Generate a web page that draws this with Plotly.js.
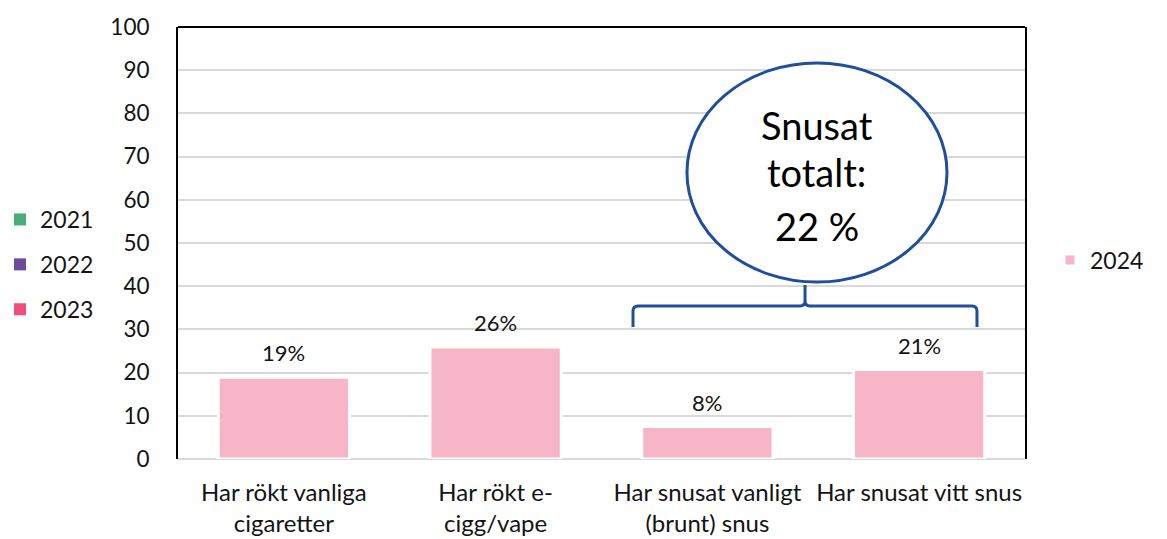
<!DOCTYPE html>
<html>
<head>
<meta charset="utf-8">
<script src="https://cdn.plot.ly/plotly-3.0.1.min.js"></script>
<style>html,body{margin:0;padding:0;background:#fff;}#chart{width:1167px;height:539px;}</style>
</head>
<body>
<div id="chart"></div>
<script>
var categories = ["Har rökt vanliga<br>cigaretter", "Har rökt e-<br>cigg/vape", "Har snusat vanligt<br>(brunt) snus", "Har snusat vitt snus"];
var values2024 = [18.9, 25.9, 7.5, 20.7];
var labels2024 = ["19%", "26%", "8%", "21%"];
var emptyYears = ["2021", "2022", "2023"];
var emptyColors = ["#47ae78", "#6a4c9c", "#ef4f78"];
var yTicks = [0, 10, 20, 30, 40, 50, 60, 70, 80, 90, 100];
var bubbleLines = ["Snusat", "totalt:", "22 %"];

var FONT = "Lato, 'Liberation Sans', sans-serif";
var TXT = "#141414";
var traces = [];
emptyYears.forEach(function (yr, i) {
  traces.push({
    type: "bar", name: yr, x: categories, y: categories.map(function () { return null; }),
    marker: { color: emptyColors[i] }, legend: "legend", legendgroup: "g" + i, width: 0.62
  });
});
traces.push({
  type: "bar", name: "2024", x: categories, y: values2024,
  marker: { color: "#f7b6c7", line: { color: "#ffffff", width: 3 } },
  legend: "legend2", width: 0.62, hoverinfo: "skip"
});

var annotations = categories.map(function (c, i) {
  return { x: c, y: values2024[i], xref: "x", yref: "y", text: labels2024[i], showarrow: false,
    yanchor: "bottom", yshift: 9, font: { family: FONT, size: 22, color: TXT } };
});
var bubbleY = [0.773, 0.664, 0.54];
bubbleLines.forEach(function (t, i) {
  annotations.push({ x: 0.7544, y: bubbleY[i], xref: "paper", yref: "paper", text: t, showarrow: false,
    xanchor: "center", yanchor: "middle", font: { family: FONT, size: 38, color: "#000" } });
});

function px(x) { return ((x - 178) / 847).toFixed(4); }
function py(y) { return ((459 - y) / 432).toFixed(4); }
var brace = "M" + px(633) + "," + py(327) + " L" + px(633) + "," + py(311) +
  " Q" + px(633) + "," + py(306) + " " + px(638) + "," + py(306) +
  " L" + px(800) + "," + py(306) + " Q" + px(805) + "," + py(306) + " " + px(805) + "," + py(301) +
  " L" + px(805) + "," + py(285) +
  " M" + px(805) + "," + py(301) + " Q" + px(805) + "," + py(306) + " " + px(810) + "," + py(306) +
  " L" + px(972) + "," + py(306) + " Q" + px(977) + "," + py(306) + " " + px(977) + "," + py(311) +
  " L" + px(977) + "," + py(327);

var layout = {
  width: 1167, height: 539,
  margin: { l: 178, r: 142, t: 27, b: 80 },
  paper_bgcolor: "#fff", plot_bgcolor: "#fff",
  font: { family: FONT, size: 22, color: TXT },
  barmode: "overlay",
  xaxis: {
    type: "category", showline: false, showgrid: false, zeroline: false,
    ticks: "outside", ticklen: 12, tickcolor: "rgba(0,0,0,0)",
    tickfont: { family: FONT, size: 24, color: TXT }, fixedrange: true
  },
  yaxis: {
    range: [0, 100], tickvals: yTicks, ticktext: yTicks.map(String),
    showgrid: true, gridcolor: "#d9d9d9", gridwidth: 2, zeroline: false,
    showline: true, linecolor: "#000", linewidth: 2, mirror: true,
    ticks: "outside", ticklen: 22, tickcolor: "rgba(0,0,0,0)",
    tickfont: { family: FONT, size: 22.5, color: TXT }, fixedrange: true
  },
  showlegend: true,
  legend: {
    xref: "container", yref: "container", x: 0.0, y: 1 - 198 / 539, xanchor: "left", yanchor: "top",
    font: { family: FONT, size: 23, color: TXT }, tracegroupgap: 12, bgcolor: "rgba(0,0,0,0)",
    itemwidth: 30
  },
  legend2: {
    xref: "container", yref: "container", x: 1050 / 1167, y: 1 - 260 / 539, xanchor: "left", yanchor: "middle",
    font: { family: FONT, size: 23, color: TXT }, bgcolor: "rgba(0,0,0,0)", itemwidth: 30
  },
  shapes: [
    { type: "line", xref: "paper", yref: "paper", x0: 0, x1: 1, y0: 1, y1: 1, line: { color: "#000", width: 2 } },
    { type: "line", xref: "paper", yref: "paper", x0: 0, x1: 1, y0: 0, y1: 0, line: { color: "#d9d9d9", width: 2 }, layer: "below" },
    { type: "path", xref: "paper", yref: "paper", path: brace, line: { color: "#1f4e9c", width: 3 } },
    { type: "circle", xref: "paper", yref: "paper", x0: px(687), x1: px(947), y0: py(282), y1: py(63),
      fillcolor: "#fff", line: { color: "#1f4e9c", width: 3 } }
  ],
  annotations: annotations
};

Plotly.newPlot("chart", traces, layout, { displayModeBar: false, staticPlot: true });
</script>
</body>
</html>
